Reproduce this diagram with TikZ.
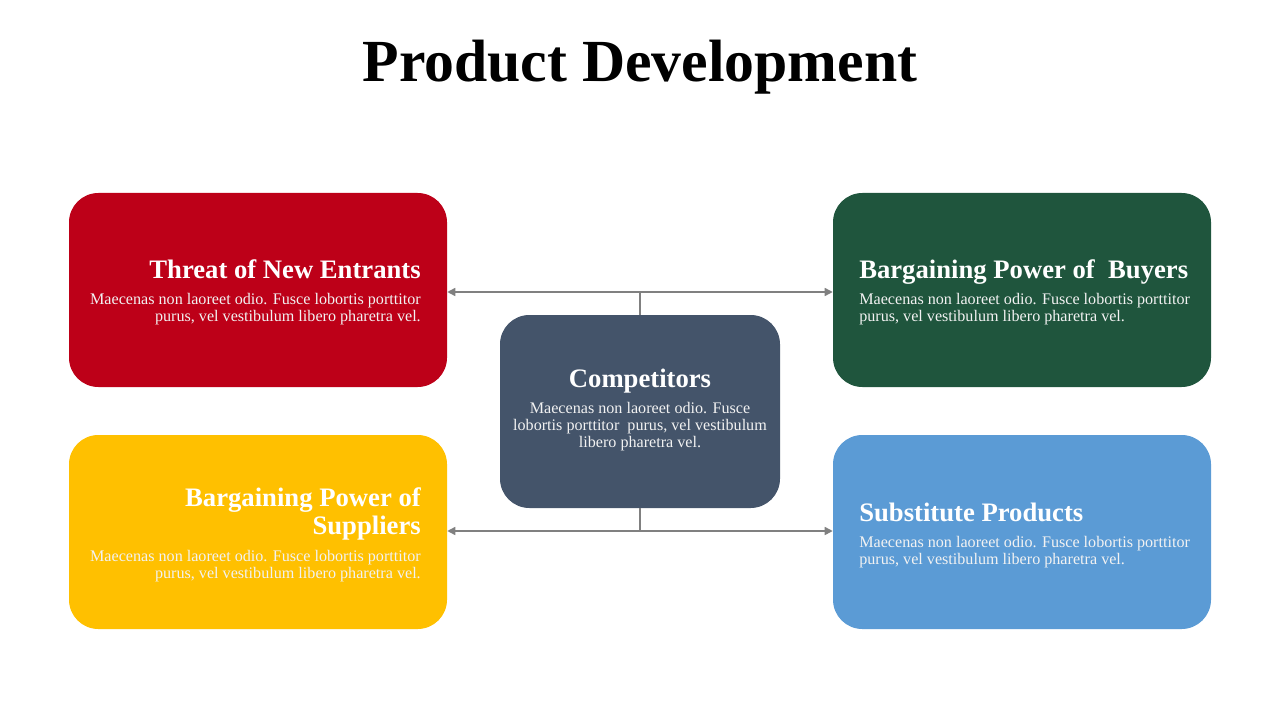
\documentclass[tikz,border=0pt]{standalone}
\usepackage{fontspec}
\setmainfont{Liberation Serif}
\usetikzlibrary{arrows.meta}
\definecolor{cred}{HTML}{BD0018}
\definecolor{cgreen}{HTML}{1F553D}
\definecolor{cyellow}{HTML}{FFC000}
\definecolor{cblue}{HTML}{5B9BD5}
\definecolor{cslate}{HTML}{44546A}
\definecolor{cline}{HTML}{808080}
\definecolor{cbody}{HTML}{F2F2F2}
\tikzset{
  box/.style={rectangle, rounded corners=22pt, draw=none, minimum width=283.5pt, minimum height=145.5pt, inner sep=0pt},
  cbox/.style={box, minimum width=210pt, minimum height=144.75pt},
  head/.style={text=white, inner sep=0pt, font=\fontsize{20}{21}\selectfont\bfseries},
  body/.style={text=cbody, inner sep=0pt, font=\fontsize{12.1}{12.75}\selectfont},
  conn/.style={draw=cline, line width=1.1pt},
  arr/.style={conn, {Triangle[length=6pt,width=6pt]}-{Triangle[length=6pt,width=6pt]}},
}
\begin{document}
\begin{tikzpicture}[x=0.75pt,y=-0.75pt]
\useasboundingbox (0,0) rectangle (1280,720);
\node[font=\fontsize{44.8}{48}\selectfont\bfseries, inner sep=0pt, anchor=base] (title) at (640,82) {Product Development};

\node[box, fill=cred] (red) at (258,290) {};
\node[box, fill=cgreen] (green) at (1022,290) {};
\node[box, fill=cyellow] (yellow) at (258,532) {};
\node[box, fill=cblue] (blue) at (1022,532) {};
\node[cbox, fill=cslate] (comp) at (640,411.5) {};

\coordinate (tj) at (640,292);
\coordinate (bj) at (640,531);
\draw[arr] (red.east |- tj) -- (green.west |- tj);
\draw[conn] (tj) -- (comp.north);
\draw[arr] (yellow.east |- bj) -- (blue.west |- bj);
\draw[conn] (comp.south) -- (bj);

\node[head, anchor=base east] (redh) at (421,278) {Threat of New Entrants};
\node[body, align=right, anchor=base east] (redb) at (421,321) {Maecenas non laoreet odio. Fusce lobortis porttitor\\purus, vel vestibulum libero pharetra vel.};

\node[head, anchor=base west] (greenh) at (859,278) {Bargaining Power of\ \ Buyers};
\node[body, align=left, anchor=base west] (greenb) at (859,321) {Maecenas non laoreet odio. Fusce lobortis porttitor\\purus, vel vestibulum libero pharetra vel.};

\node[head, align=right, anchor=base east] (yellowh) at (421,534) {Bargaining Power of\\Suppliers};
\node[body, align=right, anchor=base east] (yellowb) at (421,578) {Maecenas non laoreet odio. Fusce lobortis porttitor\\purus, vel vestibulum libero pharetra vel.};

\node[head, anchor=base west] (blueh) at (859,521) {Substitute Products};
\node[body, align=left, anchor=base west] (blueb) at (859,564) {Maecenas non laoreet odio. Fusce lobortis porttitor\\purus, vel vestibulum libero pharetra vel.};

\node[head, anchor=base] (comph) at (640,387) {Competitors};
\node[body, align=center, anchor=base] (compb) at (640,447) {Maecenas non laoreet odio. Fusce\\lobortis porttitor\ \ purus, vel vestibulum\\libero pharetra vel.};
\end{tikzpicture}
\end{document}
